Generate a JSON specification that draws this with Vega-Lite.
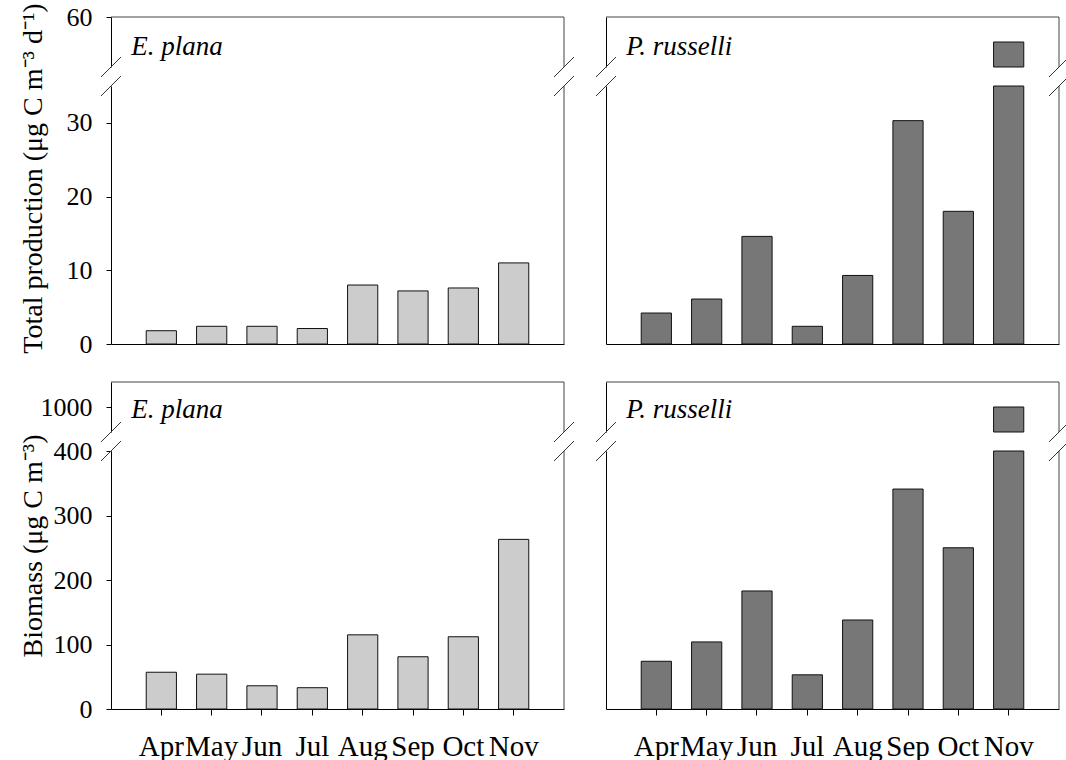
{
 "$schema": "https://vega.github.io/schema/vega-lite/v6.json",
 "padding": {"left": 18, "top": 2, "right": 5, "bottom": 5},
 "background": "#ffffff",
 "datasets": {
  "prodEp": [{"month":"Apr","value":1.8},{"month":"May","value":2.4},{"month":"Jun","value":2.4},{"month":"Jul","value":2.1},{"month":"Aug","value":8.0},{"month":"Sep","value":7.2},{"month":"Oct","value":7.6},{"month":"Nov","value":11.0}],
  "prodPr": [{"month":"Apr","value":4.2},{"month":"May","value":6.1},{"month":"Jun","value":14.6},{"month":"Jul","value":2.4},{"month":"Aug","value":9.3},{"month":"Sep","value":30.3},{"month":"Oct","value":18.0},{"month":"Nov","value":50}],
  "bioEp": [{"month":"Apr","value":57},{"month":"May","value":54},{"month":"Jun","value":36},{"month":"Jul","value":33},{"month":"Aug","value":115},{"month":"Sep","value":81},{"month":"Oct","value":112},{"month":"Nov","value":263}],
  "bioPr": [{"month":"Apr","value":74},{"month":"May","value":104},{"month":"Jun","value":183},{"month":"Jul","value":53},{"month":"Aug","value":138},{"month":"Sep","value":341},{"month":"Oct","value":250},{"month":"Nov","value":1000}]
 },
 "config": {
  "view": {"stroke": null},
  "font": "Liberation Serif",
  "axis": {"labelFont": "Liberation Serif", "titleFont": "Liberation Serif", "labelColor": "#000000", "titleColor": "#000000", "titleFontWeight": "normal", "labelFontSize": 26, "titleFontSize": 28, "domainColor": "#000000", "tickColor": "#000000", "domainWidth": 1, "tickWidth": 1, "grid": false, "tickSize": 5, "labelPadding": 14},
  "axisY": {"format": "d"},
  "axisX": {"labelFontSize": 29, "labelAngle": 0, "tickSize": 6, "labelPadding": 40, "labelBaseline": "alphabetic", "labelOverlap": false},
  "rule": {"stroke": "#444444", "strokeWidth": 1},
  "point": {"shape": "M-1,1L1,-1", "size": 400, "filled": false, "color": "#333333", "strokeWidth": 1, "opacity": 1},
  "bar": {"stroke": "#111111", "strokeWidth": 1}
 },
 "spacing": 24,
 "vconcat": [
  {"hconcat": [
   {"vconcat": [
    {"width": 453, "height": 50, "layer": [
     {"data": {"name": "prodEp"}, "transform": [{"filter": "datum.value > 40"}], "mark": {"type": "bar", "fill": "#cccccc"},
      "encoding": {"x": {"field": "month", "type": "ordinal", "scale": {"type": "band", "domain": ["Apr","May","Jun","Jul","Aug","Sep","Oct","Nov"], "paddingInner": 0.4, "paddingOuter": 0.7}, "axis": null},
                   "y": {"field": "value", "type": "quantitative", "scale": {"domain": [40, 60], "clamp": true, "nice": false, "zero": false}, "axis": {"values": [60], "title": null}}}},
     {"data": {"values": [{}]}, "mark": "rule", "encoding": {"y": {"datum": 60, "type": "quantitative"}}},
     {"data": {"values": [{}]}, "mark": "rule", "encoding": {"x": {"datum": "Nov", "type": "ordinal", "bandPosition": 2.1667}}},
     {"data": {"values": [{}]}, "mark": "point", "encoding": {"x": {"datum": "Apr", "type": "ordinal", "bandPosition": -1.1667}, "y": {"datum": 40, "type": "quantitative"}}},
     {"data": {"values": [{}]}, "mark": "point", "encoding": {"x": {"datum": "Nov", "type": "ordinal", "bandPosition": 2.1667}, "y": {"datum": 40, "type": "quantitative"}}},
     {"data": {"values": [{}]}, "mark": {"type": "text", "text": "E. plana", "font": "Liberation Serif", "fontStyle": "italic", "fontSize": 27, "align": "left", "baseline": "alphabetic", "color": "#000000"}, "encoding": {"x": {"datum": "Apr", "type": "ordinal", "bandPosition": -0.5}, "y": {"datum": 45, "type": "quantitative"}}}
    ]},
    {"width": 453, "height": 258, "layer": [
     {"data": {"name": "prodEp"}, "mark": {"type": "bar", "fill": "#cccccc"},
      "encoding": {"x": {"field": "month", "type": "ordinal", "scale": {"type": "band", "domain": ["Apr","May","Jun","Jul","Aug","Sep","Oct","Nov"], "paddingInner": 0.4, "paddingOuter": 0.7}, "axis": {"title": null, "labels": false, "ticks": false}},
                   "y": {"field": "value", "type": "quantitative", "scale": {"domain": [0, 35], "clamp": true, "nice": false}, "axis": {"values": [0, 10, 20, 30], "title": "Total production (μg C m⁻³ d⁻¹)", "titleX": -64, "titleY": 92}}}},
     {"data": {"values": [{}]}, "mark": "rule", "encoding": {"x": {"datum": "Nov", "type": "ordinal", "bandPosition": 2.1667}}},
     {"data": {"values": [{}]}, "mark": "point", "encoding": {"x": {"datum": "Apr", "type": "ordinal", "bandPosition": -1.1667}, "y": {"datum": 35, "type": "quantitative"}}},
     {"data": {"values": [{}]}, "mark": "point", "encoding": {"x": {"datum": "Nov", "type": "ordinal", "bandPosition": 2.1667}, "y": {"datum": 35, "type": "quantitative"}}}
    ]}
   ], "spacing": 19, "bounds": "flush"},
   {"vconcat": [
    {"width": 453, "height": 50, "layer": [
     {"data": {"name": "prodPr"}, "transform": [{"filter": "datum.value > 40"}], "mark": {"type": "bar", "fill": "#777777"},
      "encoding": {"x": {"field": "month", "type": "ordinal", "scale": {"type": "band", "domain": ["Apr","May","Jun","Jul","Aug","Sep","Oct","Nov"], "paddingInner": 0.4, "paddingOuter": 0.7}, "axis": null},
                   "y": {"field": "value", "type": "quantitative", "scale": {"domain": [40, 60], "clamp": true, "nice": false, "zero": false}, "axis": {"values": [60], "title": null, "labels": false, "ticks": false}}}},
     {"data": {"values": [{}]}, "mark": "rule", "encoding": {"y": {"datum": 60, "type": "quantitative"}}},
     {"data": {"values": [{}]}, "mark": "rule", "encoding": {"x": {"datum": "Nov", "type": "ordinal", "bandPosition": 2.1667}}},
     {"data": {"values": [{}]}, "mark": "point", "encoding": {"x": {"datum": "Apr", "type": "ordinal", "bandPosition": -1.1667}, "y": {"datum": 40, "type": "quantitative"}}},
     {"data": {"values": [{}]}, "mark": "point", "encoding": {"x": {"datum": "Nov", "type": "ordinal", "bandPosition": 2.1667}, "y": {"datum": 40, "type": "quantitative"}}},
     {"data": {"values": [{}]}, "mark": {"type": "text", "text": "P. russelli", "font": "Liberation Serif", "fontStyle": "italic", "fontSize": 27, "align": "left", "baseline": "alphabetic", "color": "#000000"}, "encoding": {"x": {"datum": "Apr", "type": "ordinal", "bandPosition": -0.5}, "y": {"datum": 45, "type": "quantitative"}}}
    ]},
    {"width": 453, "height": 258, "layer": [
     {"data": {"name": "prodPr"}, "mark": {"type": "bar", "fill": "#777777"},
      "encoding": {"x": {"field": "month", "type": "ordinal", "scale": {"type": "band", "domain": ["Apr","May","Jun","Jul","Aug","Sep","Oct","Nov"], "paddingInner": 0.4, "paddingOuter": 0.7}, "axis": {"title": null, "labels": false, "ticks": false}},
                   "y": {"field": "value", "type": "quantitative", "scale": {"domain": [0, 35], "clamp": true, "nice": false}, "axis": {"values": [0, 10, 20, 30], "title": null, "labels": false, "ticks": false}}}},
     {"data": {"values": [{}]}, "mark": "rule", "encoding": {"x": {"datum": "Nov", "type": "ordinal", "bandPosition": 2.1667}}},
     {"data": {"values": [{}]}, "mark": "point", "encoding": {"x": {"datum": "Apr", "type": "ordinal", "bandPosition": -1.1667}, "y": {"datum": 35, "type": "quantitative"}}},
     {"data": {"values": [{}]}, "mark": "point", "encoding": {"x": {"datum": "Nov", "type": "ordinal", "bandPosition": 2.1667}, "y": {"datum": 35, "type": "quantitative"}}}
    ]}
   ], "spacing": 19, "bounds": "flush"}
  ], "spacing": 16},
  {"hconcat": [
   {"vconcat": [
    {"width": 453, "height": 50, "layer": [
     {"data": {"name": "bioEp"}, "transform": [{"filter": "datum.value > 900"}], "mark": {"type": "bar", "fill": "#cccccc"},
      "encoding": {"x": {"field": "month", "type": "ordinal", "scale": {"type": "band", "domain": ["Apr","May","Jun","Jul","Aug","Sep","Oct","Nov"], "paddingInner": 0.4, "paddingOuter": 0.7}, "axis": null},
                   "y": {"field": "value", "type": "quantitative", "scale": {"domain": [900, 1100], "clamp": true, "nice": false, "zero": false}, "axis": {"values": [1000], "title": null}}}},
     {"data": {"values": [{}]}, "mark": "rule", "encoding": {"y": {"datum": 1100, "type": "quantitative"}}},
     {"data": {"values": [{}]}, "mark": "rule", "encoding": {"x": {"datum": "Nov", "type": "ordinal", "bandPosition": 2.1667}}},
     {"data": {"values": [{}]}, "mark": "point", "encoding": {"x": {"datum": "Apr", "type": "ordinal", "bandPosition": -1.1667}, "y": {"datum": 900, "type": "quantitative"}}},
     {"data": {"values": [{}]}, "mark": "point", "encoding": {"x": {"datum": "Nov", "type": "ordinal", "bandPosition": 2.1667}, "y": {"datum": 900, "type": "quantitative"}}},
     {"data": {"values": [{}]}, "mark": {"type": "text", "text": "E. plana", "font": "Liberation Serif", "fontStyle": "italic", "fontSize": 27, "align": "left", "baseline": "alphabetic", "color": "#000000"}, "encoding": {"x": {"datum": "Apr", "type": "ordinal", "bandPosition": -0.5}, "y": {"datum": 955, "type": "quantitative"}}}
    ]},
    {"width": 453, "height": 258, "layer": [
     {"data": {"name": "bioEp"}, "mark": {"type": "bar", "fill": "#cccccc"},
      "encoding": {"x": {"field": "month", "type": "ordinal", "scale": {"type": "band", "domain": ["Apr","May","Jun","Jul","Aug","Sep","Oct","Nov"], "paddingInner": 0.4, "paddingOuter": 0.7}, "axis": {"title": null}},
                   "y": {"field": "value", "type": "quantitative", "scale": {"domain": [0, 400], "clamp": true, "nice": false}, "axis": {"values": [0, 100, 200, 300, 400], "title": "Biomass (μg C m⁻³)", "titleX": -64, "titleY": 94.5}}}},
     {"data": {"values": [{}]}, "mark": "rule", "encoding": {"x": {"datum": "Nov", "type": "ordinal", "bandPosition": 2.1667}}},
     {"data": {"values": [{}]}, "mark": "point", "encoding": {"x": {"datum": "Apr", "type": "ordinal", "bandPosition": -1.1667}, "y": {"datum": 400, "type": "quantitative"}}},
     {"data": {"values": [{}]}, "mark": "point", "encoding": {"x": {"datum": "Nov", "type": "ordinal", "bandPosition": 2.1667}, "y": {"datum": 400, "type": "quantitative"}}}
    ]}
   ], "spacing": 19, "bounds": "flush"},
   {"vconcat": [
    {"width": 453, "height": 50, "layer": [
     {"data": {"name": "bioPr"}, "transform": [{"filter": "datum.value > 900"}], "mark": {"type": "bar", "fill": "#777777"},
      "encoding": {"x": {"field": "month", "type": "ordinal", "scale": {"type": "band", "domain": ["Apr","May","Jun","Jul","Aug","Sep","Oct","Nov"], "paddingInner": 0.4, "paddingOuter": 0.7}, "axis": null},
                   "y": {"field": "value", "type": "quantitative", "scale": {"domain": [900, 1100], "clamp": true, "nice": false, "zero": false}, "axis": {"values": [1000], "title": null, "labels": false, "ticks": false}}}},
     {"data": {"values": [{}]}, "mark": "rule", "encoding": {"y": {"datum": 1100, "type": "quantitative"}}},
     {"data": {"values": [{}]}, "mark": "rule", "encoding": {"x": {"datum": "Nov", "type": "ordinal", "bandPosition": 2.1667}}},
     {"data": {"values": [{}]}, "mark": "point", "encoding": {"x": {"datum": "Apr", "type": "ordinal", "bandPosition": -1.1667}, "y": {"datum": 900, "type": "quantitative"}}},
     {"data": {"values": [{}]}, "mark": "point", "encoding": {"x": {"datum": "Nov", "type": "ordinal", "bandPosition": 2.1667}, "y": {"datum": 900, "type": "quantitative"}}},
     {"data": {"values": [{}]}, "mark": {"type": "text", "text": "P. russelli", "font": "Liberation Serif", "fontStyle": "italic", "fontSize": 27, "align": "left", "baseline": "alphabetic", "color": "#000000"}, "encoding": {"x": {"datum": "Apr", "type": "ordinal", "bandPosition": -0.5}, "y": {"datum": 955, "type": "quantitative"}}}
    ]},
    {"width": 453, "height": 258, "layer": [
     {"data": {"name": "bioPr"}, "mark": {"type": "bar", "fill": "#777777"},
      "encoding": {"x": {"field": "month", "type": "ordinal", "scale": {"type": "band", "domain": ["Apr","May","Jun","Jul","Aug","Sep","Oct","Nov"], "paddingInner": 0.4, "paddingOuter": 0.7}, "axis": {"title": null}},
                   "y": {"field": "value", "type": "quantitative", "scale": {"domain": [0, 400], "clamp": true, "nice": false}, "axis": {"values": [0, 100, 200, 300, 400], "title": null, "labels": false, "ticks": false}}}},
     {"data": {"values": [{}]}, "mark": "rule", "encoding": {"x": {"datum": "Nov", "type": "ordinal", "bandPosition": 2.1667}}},
     {"data": {"values": [{}]}, "mark": "point", "encoding": {"x": {"datum": "Apr", "type": "ordinal", "bandPosition": -1.1667}, "y": {"datum": 400, "type": "quantitative"}}},
     {"data": {"values": [{}]}, "mark": "point", "encoding": {"x": {"datum": "Nov", "type": "ordinal", "bandPosition": 2.1667}, "y": {"datum": 400, "type": "quantitative"}}}
    ]}
   ], "spacing": 19, "bounds": "flush"}
  ], "spacing": 16}
 ]
}
